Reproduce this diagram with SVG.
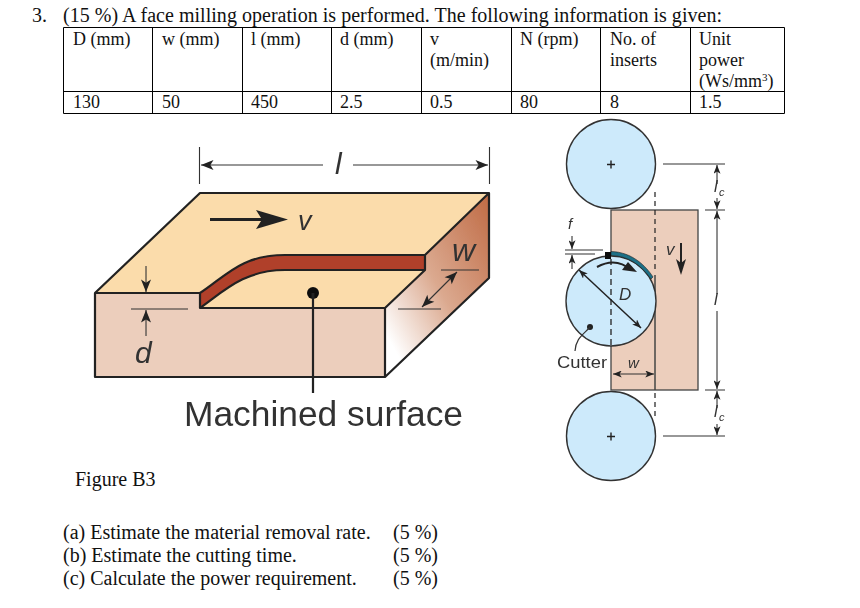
<svg xmlns="http://www.w3.org/2000/svg" width="860" height="608" viewBox="0 0 860 608">
<style>
.t{font-family:"Liberation Serif",serif;font-size:20px;fill:#111}
.c{font-family:"Liberation Serif",serif;font-size:18px;fill:#111}
.s{font-family:"Liberation Sans",Arial,sans-serif;fill:#333}
.i{font-style:italic}
.k{fill:none;stroke:#222;stroke-width:2.200;stroke-linejoin:round}
.d{fill:none;stroke:#333;stroke-width:1.100}
.h{fill:none;stroke:#222;stroke-width:1.200;stroke-dasharray:5 4}
.cc{fill:#cdeafb;stroke:#333;stroke-width:1.400}
.tb{fill:none;stroke:#000;stroke-width:1}
</style>
<defs>
<marker id="a" viewBox="0 0 10 8" refX="10" refY="4" markerWidth="9" markerHeight="7" markerUnits="userSpaceOnUse" orient="auto-start-reverse"><path d="M0 0L10 4L0 8L2.500 4Z" fill="#222"/></marker>
<marker id="l" viewBox="0 0 10 8" refX="10" refY="4" markerWidth="14" markerHeight="10" markerUnits="userSpaceOnUse" orient="auto-start-reverse"><path d="M0 0L10 4L0 8L2.500 4Z" fill="#222"/></marker>
<linearGradient id="g" x1="0" y1="1" x2="1" y2="0"><stop offset="0.12" stop-color="#ffffff"/><stop offset="0.5" stop-color="#dba98f"/><stop offset="1" stop-color="#bf6a44"/></linearGradient>
<filter id="b" x="-5%" y="-5%" width="110%" height="110%"><feGaussianBlur stdDeviation="0.45"/></filter>
</defs>
<g id="question">
<text class="t" x="32" y="22">3.</text>
<text class="t" x="63" y="22" textLength="659">(15 %) A face milling operation is performed. The following information is given:</text>
</g>
<g id="table">
<path class="tb" d="M63.500 27.500H784.500V113.500H63.500ZM63.500 91.500H784.500M152.500 27.500V113.500M242.500 27.500V113.500M331.500 27.500V113.500M421.500 27.500V113.500M511.500 27.500V113.500M600.500 27.500V113.500M690.500 27.500V113.500"/>
<text class="c" x="73" y="45">D (mm)</text><text class="c" x="162" y="45">w (mm)</text><text class="c" x="251" y="45">l (mm)</text><text class="c" x="340" y="45">d (mm)</text>
<text class="c" x="430" y="45">v</text><text class="c" x="430" y="66">(m/min)</text><text class="c" x="520" y="45">N (rpm)</text>
<text class="c" x="610" y="45">No. of</text><text class="c" x="610" y="66">inserts</text>
<text class="c" x="699" y="45">Unit</text><text class="c" x="699" y="66">power</text><text class="c" x="699" y="87">(Ws/mm<tspan font-size="11" dy="-6">3</tspan><tspan dy="6">)</tspan></text>
<text class="c" x="73" y="108">130</text><text class="c" x="162" y="108">50</text><text class="c" x="251" y="108">450</text><text class="c" x="340" y="108">2.5</text><text class="c" x="430" y="108">0.5</text><text class="c" x="520" y="108">80</text><text class="c" x="610" y="108">8</text><text class="c" x="699" y="108">1.5</text>
</g>
<g id="workpiece" filter="url(#b)">
<path d="M200 193H489L425 255V270L385 308H200V293H95Z" fill="#fbdcab"/>
<path d="M95 293H200V308H385V377H95Z" fill="#eccebc"/>
<path d="M489 193V278L385 377V308L425 270V255Z" fill="url(#g)"/>
<path d="M200 293C225 277 240 255 285 255H425V270H285C245 270 225 290 200 308Z" fill="#b03f2a"/>
<path class="k" d="M95 293L200 193H489V278L385 377H95V293H200V308H385V377M385 308L425 270V255L489 193M200 293C225 277 240 255 285 255H425M200 308C225 290 245 270 285 270H425"/>
<circle cx="313" cy="293" r="6" fill="#111"/><path d="M313 293V393" stroke="#222" stroke-width="2.200"/>
<text class="s" x="184" y="426" font-size="35" textLength="279" lengthAdjust="spacingAndGlyphs">Machined surface</text>
<text class="s i" x="298" y="230" font-size="27">v</text>
<text class="s i" x="335" y="174" font-size="30">l</text>
<text class="s i" x="452" y="261" font-size="32">w</text>
<text class="s i" x="135" y="363" font-size="30">d</text>
</g>
<g id="plate" filter="url(#b)">
<rect x="611" y="210" width="87" height="180" fill="#eccebc" stroke="#444" stroke-width="1.300"/>
<path d="M655 275V390" stroke="#444" stroke-width="1.500"/>
<path class="h" d="M655 192V273M655 393V418"/>
</g>
<g id="cutter-top" filter="url(#b)"><circle class="cc" cx="611" cy="164" r="44.500"/><path d="M607 164.500h8M611 160.500v8" stroke="#222" stroke-width="1.400"/></g>
<g id="cutter-bottom" filter="url(#b)"><circle class="cc" cx="611" cy="436" r="44.500"/><path d="M607 436.500h8M611 432.500v8" stroke="#222" stroke-width="1.400"/></g>
<g id="cutter-middle" filter="url(#b)">
<circle class="cc" cx="611" cy="301" r="45"/>
<path d="M611 251.500C632 252 646 266 653 277L651 279C640 264 628 256 611 255.500Z" fill="#1c6f86" stroke="#222" stroke-width="0.600"/>
<rect x="605" y="252" width="6" height="7" fill="#111"/>
<path d="M611 259V345" stroke="#222" stroke-width="1.300" stroke-dasharray="6 4"/>
<path d="M597 267C610 260 622 262 631 270" stroke="#222" stroke-width="2" fill="none"/><path d="M637 272L622 270L628 262Z" fill="#222"/>
<path d="M579 270L641 328" stroke="#222" stroke-width="1.500" marker-start="url(#a)" marker-end="url(#a)"/>
<circle cx="590" cy="327" r="3" fill="#222"/><path d="M590 327C583 335 576 338 575 351" stroke="#333" stroke-width="1.200" fill="none"/>
<text class="s i" x="619" y="300" font-size="17">D</text>
</g>
<g id="connectors" filter="url(#b)">
<path class="d" d="M199.500 147V184M489.500 147V184M131 309H188M398 309H441M441 270H479"/>
<path class="d" marker-start="url(#l)" d="M201 165H323"/><path class="d" marker-end="url(#l)" d="M353 165H488"/>
<path class="d" marker-end="url(#l)" d="M146 266V292"/><path class="d" marker-end="url(#l)" d="M146 336V310"/>
<path class="d" marker-start="url(#l)" marker-end="url(#l)" d="M457 272L422 307"/>
<path d="M210 219.500H265" stroke="#222" stroke-width="3"/><path d="M256 210L288 219.500L256 229L262 219.500Z" fill="#222"/>
<path class="d" d="M663 164H725M705 210H725M705 390H725M663 436H725"/>
<path class="d" marker-end="url(#a)" d="M717 184V165"/><path class="d" marker-end="url(#a)" d="M717 198V209"/>
<path class="d" marker-start="url(#a)" d="M717 211V294"/><path class="d" marker-end="url(#a)" d="M717 311V389"/>
<path class="d" marker-start="url(#a)" d="M717 391V408"/><path class="d" marker-end="url(#a)" d="M717 424V435"/>
<path class="d" d="M565 250H603M565 254H595"/>
<path class="d" marker-end="url(#a)" d="M572 236V249"/><path class="d" marker-end="url(#a)" d="M572 269V255"/>
<path class="d" marker-start="url(#a)" marker-end="url(#a)" d="M613 374H654"/>
</g>
<g id="side-labels" filter="url(#b)">
<text class="s" x="557" y="368" font-size="17" textLength="50" lengthAdjust="spacingAndGlyphs">Cutter</text>
<text class="s i" x="628" y="368" font-size="15">w</text>
<text class="s i" x="568" y="229" font-size="15">f</text>
<text class="s i" x="666" y="255" font-size="17">v</text>
<text class="s i" x="714" y="192" font-size="16">l</text><text class="s i" x="719" y="196" font-size="11">c</text>
<text class="s i" x="714" y="305" font-size="16">l</text>
<text class="s i" x="714" y="417" font-size="16">l</text><text class="s i" x="719" y="421" font-size="11">c</text>
<path d="M681 243V265" stroke="#222" stroke-width="2"/><path d="M676 259L681 275L686 259L681 263Z" fill="#222"/>
</g>
<g id="captions">
<text class="t" x="75" y="486">Figure B3</text>
<text class="t" x="63" y="539">(a) Estimate the material removal rate.</text><text class="t" x="393" y="539">(5 %)</text>
<text class="t" x="63" y="562">(b) Estimate the cutting time.</text><text class="t" x="393" y="562">(5 %)</text>
<text class="t" x="63" y="585">(c) Calculate the power requirement.</text><text class="t" x="393" y="585">(5 %)</text>
</g>
</svg>
